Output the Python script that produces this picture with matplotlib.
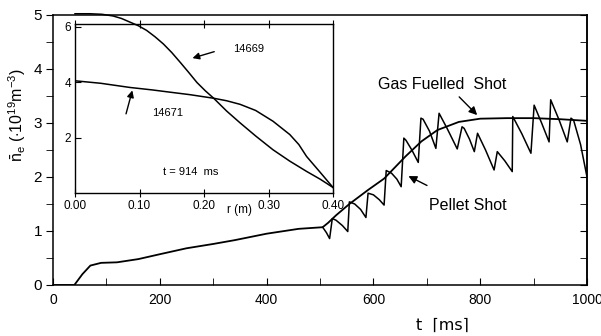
import numpy as np
import matplotlib.pyplot as plt

# main plot: line average density vs time
gas_t = [0, 40, 55, 70, 90, 120, 160, 200, 250, 300, 340, 400, 460, 505,
         515, 530, 555, 590, 620, 660, 690, 720, 760, 800, 850, 900, 950, 1000]
gas_n = [0, 0, 0.2, 0.36, 0.41, 0.42, 0.48, 0.57, 0.68, 0.76, 0.83, 0.95, 1.04, 1.07,
         1.15, 1.29, 1.5, 1.76, 1.97, 2.38, 2.66, 2.87, 3.02, 3.08, 3.09, 3.09, 3.07, 3.04]

pellet_t = [505, 512, 518, 523, 530, 542, 552, 555, 565, 576, 586, 590, 600, 611, 620,
            624, 634, 644, 652, 657, 661, 672, 684, 689, 693, 705, 717, 723, 738, 757,
            766, 770, 780, 789, 795, 810, 826, 832, 846, 860, 861, 878, 895, 901, 915,
            929, 932, 948, 963, 970, 975, 988, 1000]
pellet_n = [1.07, 0.97, 0.86, 1.23, 1.2, 1.1, 0.99, 1.54, 1.5, 1.4, 1.25, 1.70, 1.67, 1.58, 1.48,
            2.12, 2.07, 1.96, 1.82, 2.72, 2.68, 2.5, 2.27, 3.09, 3.07, 2.85, 2.53, 3.18, 2.9, 2.52,
            2.93, 2.9, 2.7, 2.47, 2.81, 2.5, 2.13, 2.47, 2.3, 2.10, 3.12, 2.8, 2.44, 3.33, 3.0,
            2.65, 3.43, 3.05, 2.65, 3.09, 3.05, 2.6, 2.0]

# inset: density profiles at t = 914 ms
r_14669 = [0.0, 0.023, 0.042, 0.059, 0.072, 0.085, 0.098, 0.111, 0.124, 0.137, 0.15, 0.163,
           0.176, 0.189, 0.202, 0.215, 0.235, 0.256, 0.28, 0.307, 0.333, 0.359, 0.38, 0.40]
n_14669 = [6.47, 6.47, 6.45, 6.39, 6.3, 6.17, 6.04, 5.87, 5.64, 5.38, 5.07, 4.72,
           4.36, 3.99, 3.69, 3.42, 2.96, 2.53, 2.06, 1.56, 1.15, 0.78, 0.5, 0.2]
r_14671 = [0.0, 0.04, 0.085, 0.12, 0.147, 0.178, 0.215, 0.235, 0.256, 0.28, 0.307,
           0.333, 0.347, 0.359, 0.38, 0.40]
n_14671 = [4.05, 3.96, 3.81, 3.72, 3.64, 3.55, 3.42, 3.33, 3.2, 2.98, 2.59,
           2.11, 1.75, 1.32, 0.75, 0.2]

plt.rcParams['font.family'] = ['Liberation Sans', 'DejaVu Sans']
plt.rcParams['mathtext.fontset'] = 'custom'
plt.rcParams['mathtext.rm'] = 'Liberation Sans'
plt.rcParams['mathtext.it'] = 'Liberation Sans'

fig = plt.figure(figsize=(6.01, 3.36), dpi=100)
ax = fig.add_axes([53 / 601, 1 - 285 / 336, 534 / 601, 270 / 336])

ax.plot(gas_t, gas_n, color='black', lw=1.3)
ax.plot(pellet_t, pellet_n, color='black', lw=1.1)

ax.set_xlim(0, 1000)
ax.set_ylim(0, 5)
ax.set_xticks(range(0, 1001, 200))
ax.set_xticks(range(0, 1001, 100), minor=True)
ax.set_yticks(range(0, 6))
ax.set_yticks(np.arange(0, 5.01, 0.5), minor=True)
ax.tick_params(axis='y', which='both', direction='out', length=5, labelsize=11, pad=3)
ax.tick_params(axis='x', which='both', direction='in', length=5, labelsize=10, pad=6)
for sp in ax.spines.values():
    sp.set_linewidth(1.1)

# right side ticks point inward, no labels
sec = ax.secondary_yaxis('right')
sec.set_yticks(range(0, 6))
sec.set_yticks(np.arange(0, 5.01, 0.5), minor=True)
sec.tick_params(which='both', direction='in', length=5, labelright=False)
sec.spines['right'].set_linewidth(1.1)

ax.text(729, 3.72, 'Gas Fuelled  Shot', ha='center', va='center', fontsize=11.5)
ax.annotate('', xy=(798, 3.11), xytext=(757, 3.52),
            arrowprops=dict(arrowstyle='-|>', color='black', lw=1.0, mutation_scale=12))
ax.text(776, 1.48, 'Pellet Shot', ha='center', va='center', fontsize=11.5)
ax.annotate('', xy=(661, 2.04), xytext=(705, 1.82),
            arrowprops=dict(arrowstyle='-|>', color='black', lw=1.0, mutation_scale=12))

fig.text(17 / 601, 1 - 115 / 336, r'$\bar{\mathrm{n}}_\mathrm{e}$ ($\cdot$10$^{19}$m$^{-3}$)',
         rotation=90, ha='center', va='center', fontsize=11.5)
fig.text(442 / 601, 1 - 325 / 336, 't  \u2308ms\u2309', ha='center', va='center', fontsize=11.5,
         family=['DejaVu Sans'])

# inset
ins = fig.add_axes([75 / 601, 1 - 193 / 336, 258 / 601, 169 / 336])
ins.patch.set_alpha(0)
ins.plot(r_14669, n_14669, color='black', lw=1.1, clip_on=False)
ins.plot(r_14671, n_14671, color='black', lw=1.1)
ins.set_xlim(0, 0.40)
ins.set_ylim(0, 6.1)
ins.set_xticks([0.0, 0.1, 0.2, 0.3, 0.4])
ins.set_xticklabels(['0.00', '0.10', '0.20', '0.30', '0.40'])
ins.set_yticks([2, 4, 6])
ins.tick_params(axis='x', direction='inout', length=6, labelsize=8.5, pad=2, top=True)
ins.tick_params(axis='y', direction='in', length=4, labelsize=8.5, pad=3)
for sp in ins.spines.values():
    sp.set_linewidth(1.0)

ins.text(0.255, -0.6, 'r (m)', ha='center', va='center', fontsize=8.5, clip_on=False)
ins.text(0.18, 0.75, 't = 914  ms', ha='center', va='center', fontsize=8)
ins.text(0.245, 5.2, '14669', ha='left', va='center', fontsize=8)
ins.annotate('', xy=(0.178, 4.84), xytext=(0.22, 5.13),
             arrowprops=dict(arrowstyle='-|>', color='black', lw=1.0, mutation_scale=10))
ins.text(0.12, 2.9, '14671', ha='left', va='center', fontsize=8)
ins.annotate('', xy=(0.09, 3.8), xytext=(0.078, 2.76),
             arrowprops=dict(arrowstyle='-|>', color='black', lw=1.0, mutation_scale=10))

fig.savefig('out.png', dpi=100)
